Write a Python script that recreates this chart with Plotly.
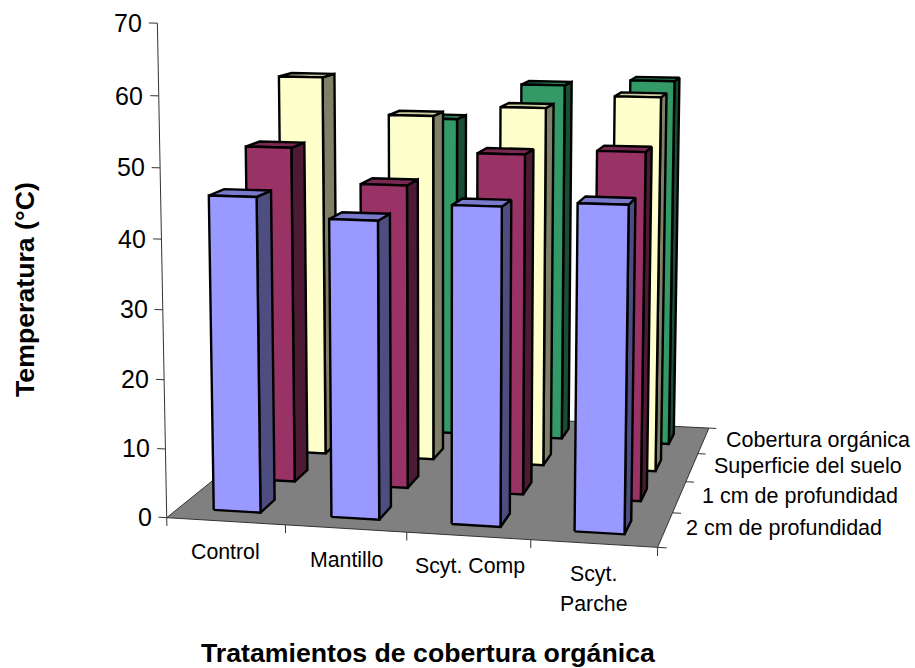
import numpy as np
import plotly.graph_objects as go

# Chart content
categories = [["Control"], ["Mantillo"], ["Scyt. Comp"], ["Scyt.", "Parche"]]
series_names = ["2 cm de profundidad", "1 cm de profundidad", "Superficie del suelo", "Cobertura orgánica"]
temp_2cm = [45.6, 42.8, 45.3, 46.1]
temp_1cm = [50.6, 45.5, 50.5, 51.3]
temp_surface = [59.6, 54.0, 55.6, 57.6]
temp_mulch = [None, 51.8, 57.6, 58.6]
z_ticks = [0, 10, 20, 30, 40, 50, 60, 70]

# Front, side and top shades of each series
front_colors = ["#9999FF", "#993366", "#FFFFCC", "#339966"]
side_colors = ["#4D4D80", "#4D1A33", "#808066", "#1A4D33"]
top_colors = ["#7A7ACC", "#7A2952", "#CCCCA3", "#297A52"]

# Perspective camera: (category, series, temperature) to plane coordinates
CAMERA = np.array([
    [462.451529, 200.909643, -14.556604, 166.730447],
    [6.028085, -22.425967, -495.261437, 517.659059],
    [-0.043247, 0.214195, -0.032966, 1.0],
])
BAR_START, BAR_END = 0.3, 0.7
EDGE = 2.4


def project(points):
    pts = np.asarray(points, float)
    h = np.c_[pts[:, 0] / 4, pts[:, 1] / 4, pts[:, 2] / 70, np.ones(len(pts))] @ CAMERA.T
    return h[:, 0] / h[:, 2], h[:, 1] / h[:, 2]


fig = go.Figure()


def polygon(points, fill, line, width):
    x, y = project(points + points[:1])
    fig.add_trace(go.Scatter(x=x, y=y, mode="lines", fill="toself", fillcolor=fill,
                             line=dict(color=line, width=width), hoverinfo="skip", showlegend=False))


def segment(a, b, color="#333333", width=1):
    x, y = project([a, b])
    fig.add_trace(go.Scatter(x=x, y=y, mode="lines", line=dict(color=color, width=width),
                             hoverinfo="skip", showlegend=False))


# Floor
polygon([(0, 0, 0), (4, 0, 0), (4, 4, 0), (0, 4, 0)], "#808080", "#333333", 1)

# Axes and tick marks
segment((0, 0, 0), (0, 0, 70))
for v in z_ticks:
    segment((0, 0, v), (-0.07, 0, v))
for i in range(5):
    segment((i, 0, 0), (i, 0, -1.2))
    segment((4, i, 0), (4.07, i, 0))

# Bars, back row first
rows = [temp_2cm, temp_1cm, temp_surface, temp_mulch]
for j in reversed(range(4)):
    for i, v in enumerate(rows[j]):
        if v is None:
            continue
        x0, x1 = i + BAR_START, i + BAR_END
        y0, y1 = j + BAR_START, j + BAR_END
        polygon([(x1, y0, 0), (x1, y1, 0), (x1, y1, v), (x1, y0, v)], side_colors[j], "black", EDGE)
        polygon([(x0, y0, v), (x1, y0, v), (x1, y1, v), (x0, y1, v)], top_colors[j], "black", EDGE)
        polygon([(x0, y0, 0), (x1, y0, 0), (x1, y0, v), (x0, y0, v)], front_colors[j], "black", EDGE)

FONT = "Liberation Sans"


def label(x, y, text, size, xanchor="center", bold=False, angle=0):
    fig.add_annotation(x=x, y=y, xref="x", yref="y", text=f"<b>{text}</b>" if bold else text,
                       showarrow=False, xanchor=xanchor, yanchor="middle", textangle=angle,
                       font=dict(family=FONT, size=size, color="black"))


# Temperature tick labels sit just left of the axis
for v in z_ticks:
    tx, ty = project([(-0.12, 0, v)])
    label(tx[0] + 1, ty[0], str(v), 25, "right")

# Category labels below the floor
label_rows = [[(225, 552)], [(346, 560)], [(469.5, 566)], [(593, 574), (593, 604)]]
for lines, spots in zip(categories, label_rows):
    for line, (cx, cy) in zip(lines, spots):
        label(cx, cy, line, 21.3)

# Series labels along the right edge
for name, sx, sy in zip(series_names, [684, 700, 712, 724], [528, 496, 466, 440]):
    label(sx, sy, name, 21.5, "left")

label(25, 290, "Temperatura (°C)", 26.7, bold=True, angle=-90)
label(428.5, 653, "Tratamientos de cobertura orgánica", 26.7, bold=True)

fig.update_layout(
    width=915, height=668, margin=dict(l=0, r=0, t=0, b=0),
    paper_bgcolor="white", plot_bgcolor="white", showlegend=False,
    xaxis=dict(range=[0, 915], visible=False, fixedrange=True),
    yaxis=dict(range=[668, 0], visible=False, fixedrange=True),
)
fig.write_html("out.html", config=dict(displayModeBar=False))
